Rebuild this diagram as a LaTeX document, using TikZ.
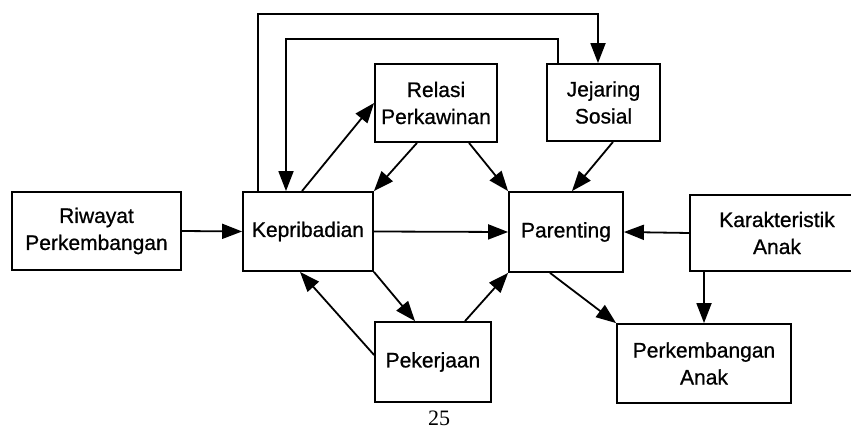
\documentclass[tikz,border=0pt]{standalone}
\usepackage{fontspec}
\setmainfont{Liberation Sans}
\newfontfamily\boxfont{Liberation Sans}[FakeBold=0.8]
\newfontfamily\pagefont{Liberation Serif}
\usetikzlibrary{arrows.meta}
\begin{document}
\begin{tikzpicture}[x=1pt,y=1pt,
  box/.style={draw, line width=1.8pt, align=center, inner sep=0pt, font=\boxfont\fontsize{21}{27}\selectfont},
  link/.style={line width=1.8pt, -{Triangle[length=20pt,width=15pt]}}]
\useasboundingbox (0,0) rectangle (851,436);
\clip (0,0) rectangle (851,436);
\node[box, minimum width=169pt, minimum height=78pt] (riw) at (96.5,205) {Riwayat\\Perkembangan};
\node[box, minimum width=130pt, minimum height=79pt] (kep) at (308,204.5) {Kepribadian};
\node[box, minimum width=122pt, minimum height=78pt] (rel) at (436,333) {Relasi\\Perkawinan};
\node[box, minimum width=113pt, minimum height=77pt] (jej) at (603.5,333.5) {Jejaring\\Sosial};
\node[box, minimum width=114pt, minimum height=80pt] (par) at (566,204) {Parenting};
\node[box, minimum width=174pt, minimum height=76pt] (kar) at (777,203) {Karakteristik\\Anak};
\node[box, minimum width=116pt, minimum height=80pt] (pek) at (433,74) {Pekerjaan};
\node[box, minimum width=174pt, minimum height=79pt] (per) at (704,72.5) {Perkembangan\\Anak};
\node[font=\pagefont\fontsize{22}{24}\selectfont] (page) at (439,18) {25};
\coordinate (outer) at (598,422);
\coordinate (inner) at (286,397);

\draw[link] (riw.east) -- (kep.west);
\draw[link] (kep.east) -- (par.west);
\draw[link] (kar.west) -- (par.east);
\draw[link] ([xshift=-6pt]kep.north) -- (rel.west);
\draw[link] ([xshift=-19pt]rel.south) -- (kep.north east);
\draw[link] ([xshift=33pt]rel.south) -- (par.north west);
\draw[link] ([xshift=9.5pt]jej.south) -- ([xshift=6pt]par.north);
\draw[link] ([xshift=-50pt]kep.north) |- (outer) -- (outer |- jej.north);
\draw[link] ([xshift=-45.5pt]jej.north) |- (inner) -- (inner |- kep.north);
\draw[link] (kep.south east) -- ([xshift=-18pt]pek.north);
\draw[link] ([yshift=7pt]pek.west) -- ([xshift=-8pt]kep.south);
\draw[link] ([xshift=32pt]pek.north) -- (par.south west);
\draw[link] ([xshift=-16pt]par.south) -- (per.north west);
\draw[link] (per.north |- kar.south) -- (per.north);
\end{tikzpicture}
\end{document}
